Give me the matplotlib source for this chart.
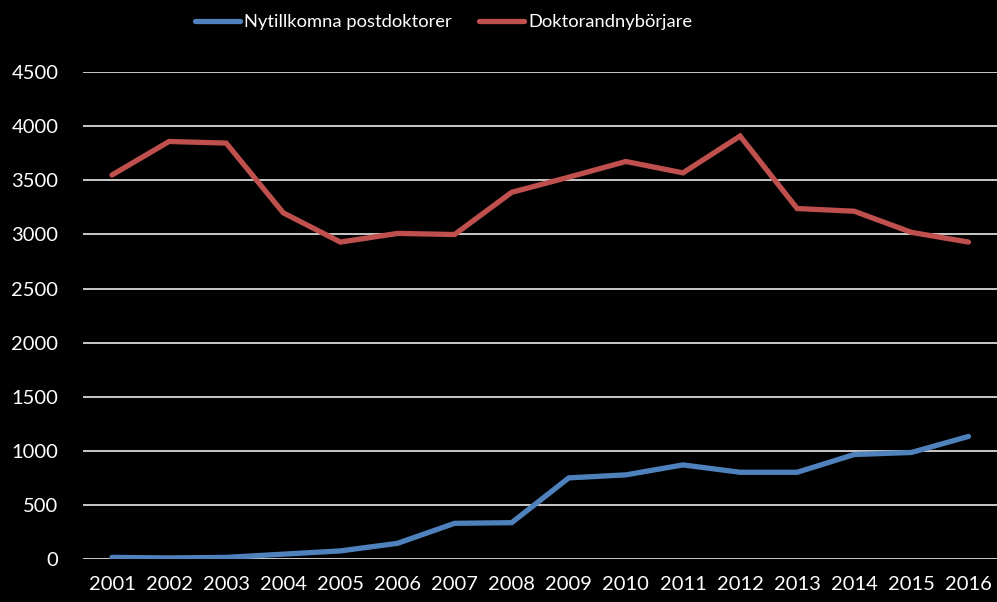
import matplotlib
matplotlib.use('Agg')
import matplotlib.pyplot as plt

plt.rcParams['font.family'] = ['Lato', 'DejaVu Sans']

years = list(range(2001, 2017))
postdoktorer = [15, 10, 15, 45, 75, 145, 330, 336, 750, 778, 870, 802, 802, 966, 985, 1133]
doktorander = [3550, 3860, 3845, 3200, 2930, 3010, 3000, 3390, 3530, 3675, 3570, 3910, 3240, 3215, 3020, 2930]
yticks = list(range(0, 5000, 500))

blue = '#4F81BD'
red = '#C0504D'

fig = plt.figure(figsize=(9.97, 6.02), dpi=100, facecolor='black')
ax = fig.add_axes([0.0837, 0.0714, 0.9163, 0.8086])
ax.set_facecolor('black')

ax.plot(years, postdoktorer, color=blue, linewidth=3.8, solid_capstyle='round',
        solid_joinstyle='miter', label='Nytillkomna postdoktorer', zorder=3)
ax.plot(years, doktorander, color=red, linewidth=3.8, solid_capstyle='round',
        solid_joinstyle='miter', label='Doktorandnybörjare', zorder=3)

ax.set_xlim(2000.5, 2016.5)
ax.set_ylim(0, 4500)
ax.set_yticks(yticks)
ax.set_xticks(years)
ax.set_xticklabels([str(y) for y in years])
ax.grid(axis='y', color='#d9d9d9', linewidth=1.3, zorder=1)
ax.set_axisbelow(True)
for s in ax.spines.values():
    s.set_visible(False)
ax.tick_params(axis='both', length=0, colors='white', labelsize=14.5)
ax.tick_params(axis='y', pad=18)
ax.tick_params(axis='x', pad=12)

leg = fig.legend(loc='upper center', ncol=2, frameon=False, fontsize=13.2,
                 bbox_to_anchor=(0.445, 1.004), handlelength=2.45, handletextpad=0.22,
                 columnspacing=1.5)
for t in leg.get_texts():
    t.set_color('white')

fig.savefig('out.png', dpi=100, facecolor='black')
